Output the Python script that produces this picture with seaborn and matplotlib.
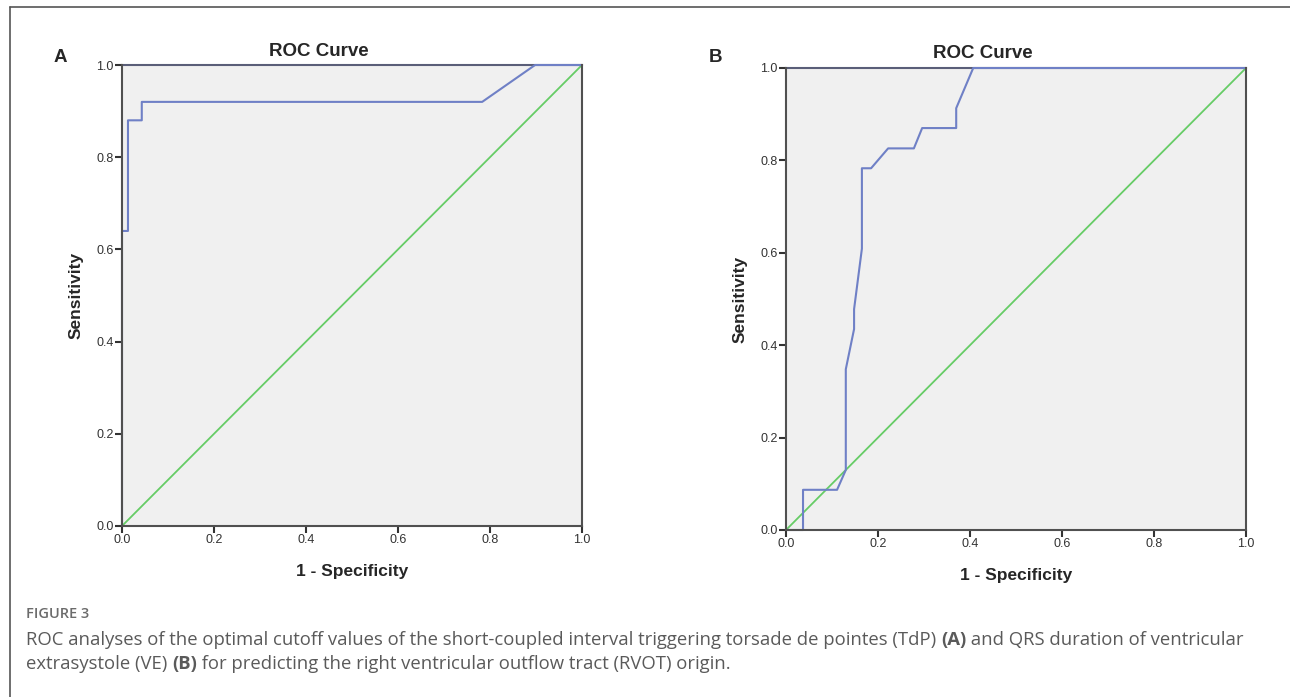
import matplotlib
matplotlib.use("Agg")
import matplotlib.pyplot as plt
import numpy as np
import pandas as pd
import seaborn as sns
from matplotlib.lines import Line2D

# ROC curve A (short-coupled interval triggering TdP)
fpr_a = [0.0, 0.0, 0.013, 0.013, 0.043, 0.043, 0.783, 0.898, 1.0]
tpr_a = [0.0, 0.64, 0.64, 0.88, 0.88, 0.92, 0.92, 1.0, 1.0]

# ROC curve B (QRS duration of VE)
fpr_b = [0.0, 0.037, 0.037, 0.111, 0.130, 0.130, 0.148, 0.148, 0.165, 0.165,
         0.185, 0.222, 0.278, 0.296, 0.370, 0.370, 0.407, 1.0]
tpr_b = [0.0, 0.0, 0.087, 0.087, 0.130, 0.348, 0.435, 0.478, 0.609, 0.783,
         0.783, 0.826, 0.826, 0.870, 0.870, 0.913, 1.0, 1.0]

ticks = [0.0, 0.2, 0.4, 0.6, 0.8, 1.0]
tick_labels = ["0.0", "0.2", "0.4", "0.6", "0.8", "1.0"]

caption_lines = [
    [("ROC analyses of the optimal cutoff values of the short-coupled interval triggering torsade de pointes (TdP) ", "normal"),
     ("(A)", "bold"),
     (" and QRS duration of ventricular", "normal")],
    [("extrasystole (VE) ", "normal"),
     ("(B)", "bold"),
     (" for predicting the right ventricular outflow tract (RVOT) origin.", "normal")],
]

curve_color = "#6f80c6"
ref_color = "#66cc66"
spine_color = "#505050"

sns.set_style("white")
plt.rcParams['font.family'] = ['Liberation Sans', 'DejaVu Sans']

fig = plt.figure(figsize=(12.9, 6.97), dpi=100)

panels = [
    ("A", fpr_a, tpr_a, [122 / 1290, 1 - 526 / 697, 460 / 1290, 461 / 697], 60, 319, 52),
    ("B", fpr_b, tpr_b, [786 / 1290, 1 - 530 / 697, 460 / 1290, 462 / 697], 716, 983, 54),
]

for letter, fx, fy, rect, lx, tx, ty in panels:
    ax = fig.add_axes(rect)
    ax.set_facecolor("#f0f0f0")
    df = pd.DataFrame({"fpr": fx, "tpr": fy})
    ref = pd.DataFrame({"x": [0.0, 1.0], "y": [0.0, 1.0]})
    sns.lineplot(data=ref, x="x", y="y", ax=ax, color=ref_color, lw=1.3,
                 sort=False, estimator=None, zorder=1.5)
    sns.lineplot(data=df, x="fpr", y="tpr", ax=ax, color=curve_color, lw=1.5,
                 sort=False, estimator=None, zorder=2.5, clip_on=False)
    ax.set_xlim(0, 1)
    ax.set_ylim(0, 1)
    ax.set_xticks(ticks)
    ax.set_xticklabels(tick_labels)
    ax.set_yticks(ticks)
    ax.set_yticklabels(tick_labels)
    ax.tick_params(axis="both", direction="out", length=5, width=1.5,
                   color="#333333", labelsize=9, labelcolor="#333333", pad=1,
                   bottom=True, left=True)
    for s in ax.spines.values():
        s.set_color(spine_color)
        s.set_linewidth(1.5)
        s.set_zorder(3)
    ax.spines["top"].set_zorder(2)
    ax.spines["top"].set_color("#5a5e78")
    ax.set_xlabel("1 - Specificity", fontsize=12.5, fontweight="bold", labelpad=13)
    ax.set_ylabel("Sensitivity", fontsize=12.5, fontweight="bold", labelpad=9)
    fig.text(tx / 1290, 1 - ty / 697, "ROC Curve", ha="center", va="center",
             fontsize=13.5, fontweight="bold")
    fig.text(lx / 1290, 1 - 57 / 697, letter, ha="center", va="center",
             fontsize=13.5, fontweight="bold")

# frame lines of the figure box (top and left)
fig.add_artist(Line2D([10 / 1290, 1.0], [1 - 7 / 697, 1 - 7 / 697],
                      color="#555555", lw=1.2, transform=fig.transFigure))
fig.add_artist(Line2D([10 / 1290, 10 / 1290], [0.0, 1 - 7 / 697],
                      color="#555555", lw=1.2, transform=fig.transFigure))

cap_font = ['Open Sans', 'DejaVu Sans']
fig.text(26 / 1290, 1 - 614 / 697, "FIGURE 3", ha="left", va="center",
         fontsize=10.5, fontweight="semibold", color="#6b6b6b", family=cap_font)

renderer = fig.canvas.get_renderer()
for i, pieces in enumerate(caption_lines):
    x = 26.0
    y = 640 + i * 24
    for txt, weight in pieces:
        t = fig.text(x / 1290, 1 - y / 697, txt, ha="left", va="center",
                     fontsize=13.3, fontweight=weight, color="#5a5a5a",
                     family=cap_font)
        bb = t.get_window_extent(renderer=renderer)
        x += bb.width

fig.savefig("out.png", dpi=100)
